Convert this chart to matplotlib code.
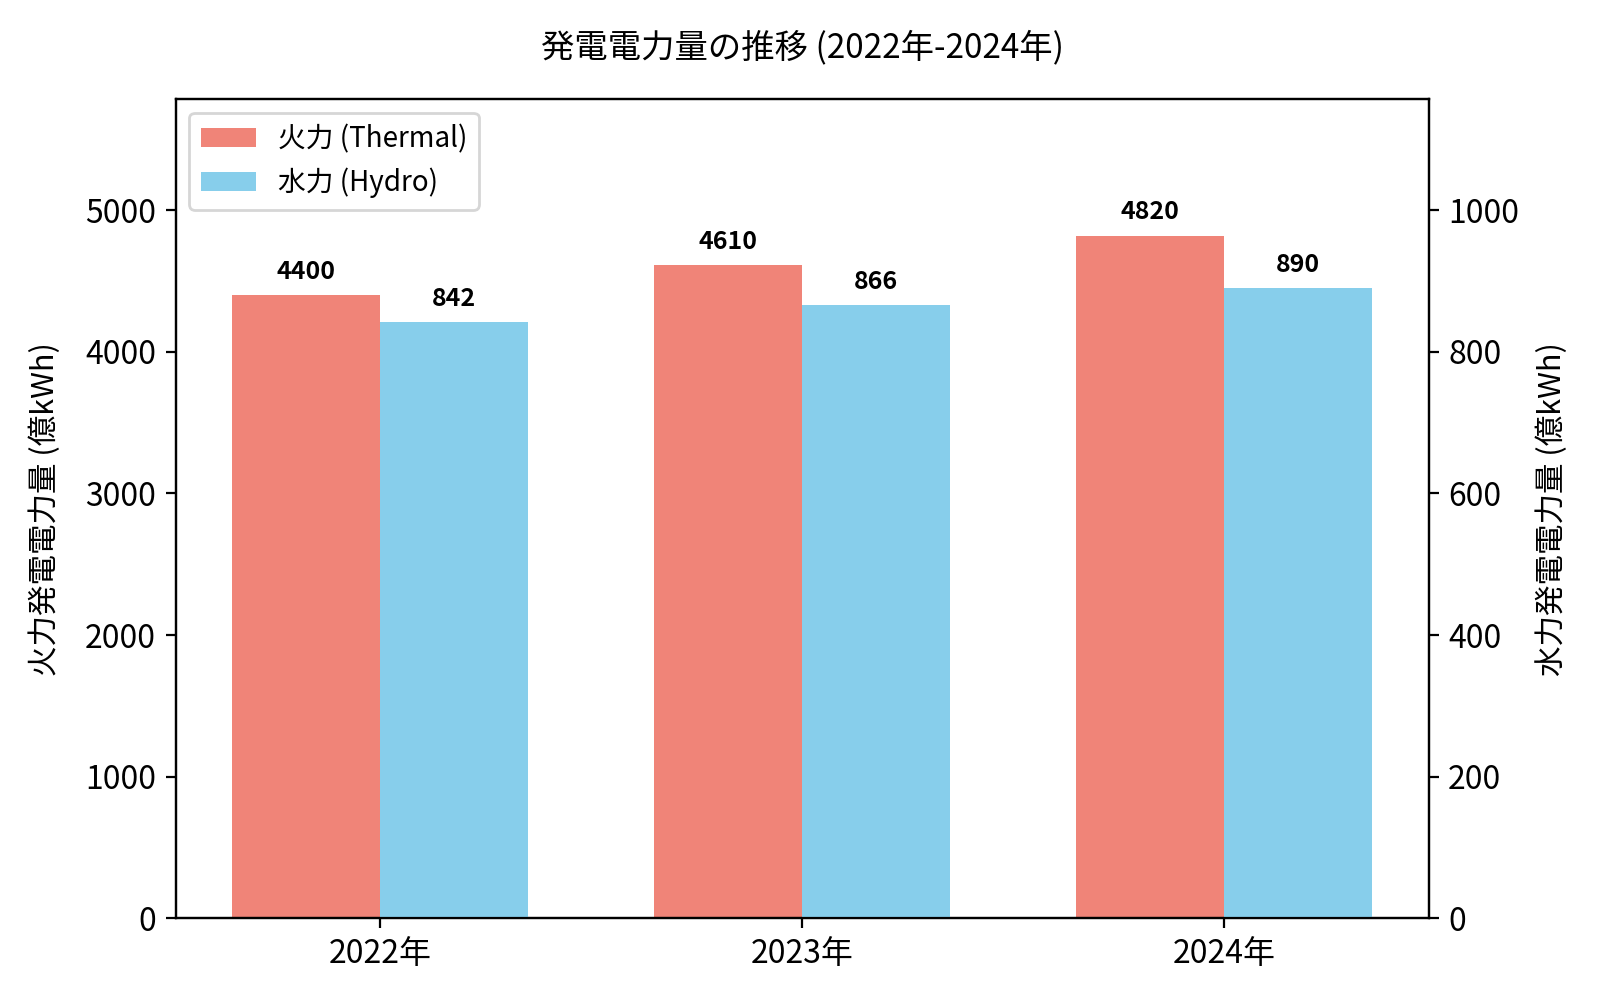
import matplotlib
matplotlib.use("Agg")
import matplotlib.pyplot as plt
import numpy as np

plt.rcParams['font.family'] = ['Noto Sans CJK JP', 'DejaVu Sans']

years = ["2022年", "2023年", "2024年"]
thermal = [4400, 4610, 4820]
hydro = [842, 866, 890]

fig, ax1 = plt.subplots(figsize=(8, 5), dpi=200)
ax2 = ax1.twinx()

x = np.arange(len(years))
w = 0.35
b1 = ax1.bar(x - w/2, thermal, w, color="#F08478", label="火力 (Thermal)")
b2 = ax2.bar(x + w/2, hydro, w, color="#87CEEB", label="水力 (Hydro)")

ax1.set_ylim(0, max(thermal) * 1.2)
ax2.set_ylim(0, max(hydro) * 1.3)

for r, v in zip(b1, thermal):
    ax1.annotate(f"{v}", (r.get_x() + r.get_width()/2, v), xytext=(0, 4),
                 textcoords="offset points", ha="center", va="bottom",
                 fontsize=9, fontweight="bold")
for r, v in zip(b2, hydro):
    ax2.annotate(f"{v}", (r.get_x() + r.get_width()/2, v), xytext=(0, 4),
                 textcoords="offset points", ha="center", va="bottom",
                 fontsize=9, fontweight="bold")

ax1.set_xticks(x)
ax1.set_xticklabels(years, fontsize=11.5)
ax1.tick_params(axis='y', labelsize=11.5)
ax2.tick_params(axis='y', labelsize=11.5)
ax1.set_ylabel("火力発電電力量 (億kWh)", fontsize=11, labelpad=8.5)
ax2.set_ylabel("水力発電電力量 (億kWh)", fontsize=11, labelpad=6)
ax1.set_title("発電電力量の推移 (2022年-2024年)", fontsize=12, pad=15)

h1, l1 = ax1.get_legend_handles_labels()
h2, l2 = ax2.get_legend_handles_labels()
ax1.legend(h1 + h2, l1 + l2, loc="upper left", fontsize=10)

fig.subplots_adjust(left=0.1097, right=0.893, top=0.901, bottom=0.0816)
fig.savefig("out.png")
